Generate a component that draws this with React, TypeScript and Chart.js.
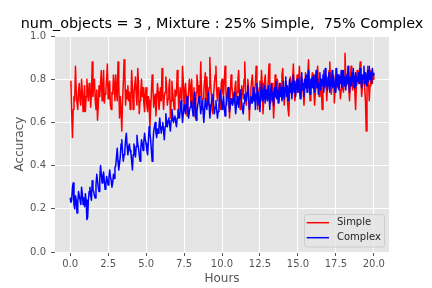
import React, { useEffect, useRef } from "react";
import { Chart, registerables } from "chart.js";

Chart.register(...registerables);

const TITLE = "num_objects = 3 , Mixture : 25% Simple,  75% Complex";
const X_LABEL = "Hours";
const Y_LABEL = "Accuracy";
const SERIES_NAMES = ["Simple", "Complex"];
const X_TICKS = [0, 2.5, 5, 7.5, 10, 12.5, 15, 17.5, 20];
const Y_TICKS = [0, 0.2, 0.4, 0.6, 0.8, 1.0];
const HOUR_STEP = 0.05;

const simple = [
  0.77, 0.79, 0.64, 0.53, 0.66, 0.72, 0.70, 0.86, 0.74, 0.69, 0.66, 0.75, 0.78, 0.70, 0.68, 0.80, 0.74, 0.65, 0.71, 0.77,
  0.65, 0.72, 0.80, 0.74, 0.70, 0.78, 0.76, 0.67, 0.73, 0.88, 0.72, 0.79, 0.80, 0.70, 0.66, 0.75, 0.61, 0.68, 0.77, 0.72,
  0.78, 0.84, 0.70, 0.75, 0.84, 0.69, 0.73, 0.75, 0.80, 0.87, 0.71, 0.76, 0.79, 0.68, 0.66, 0.74, 0.73, 0.82, 0.77, 0.70,
  0.82, 0.74, 0.70, 0.88, 0.79, 0.62, 0.72, 0.66, 0.56, 0.70, 0.78, 0.89, 0.82, 0.68, 0.75, 0.71, 0.77, 0.70, 0.74, 0.66,
  0.70, 0.84, 0.76, 0.66, 0.73, 0.77, 0.81, 0.72, 0.68, 0.85, 0.78, 0.64, 0.70, 0.74, 0.80, 0.72, 0.76, 0.69, 0.65, 0.73,
  0.76, 0.68, 0.65, 0.72, 0.70, 0.58, 0.66, 0.74, 0.82, 0.76, 0.67, 0.71, 0.73, 0.63, 0.70, 0.78, 0.74, 0.66, 0.70, 0.76,
  0.70, 0.85, 0.73, 0.66, 0.72, 0.74, 0.81, 0.77, 0.68, 0.71, 0.76, 0.80, 0.62, 0.70, 0.79, 0.74, 0.70, 0.66, 0.75, 0.72,
  0.73, 0.84, 0.78, 0.66, 0.70, 0.76, 0.72, 0.70, 0.86, 0.79, 0.68, 0.74, 0.78, 0.72, 0.63, 0.70, 0.74, 0.80, 0.76, 0.69,
  0.80, 0.72, 0.67, 0.76, 0.70, 0.62, 0.74, 0.82, 0.78, 0.70, 0.77, 0.72, 0.88, 0.75, 0.66, 0.71, 0.74, 0.79, 0.83, 0.70,
  0.81, 0.74, 0.68, 0.76, 0.90, 0.78, 0.72, 0.66, 0.64, 0.73, 0.78, 0.82, 0.86, 0.74, 0.70, 0.76, 0.75, 0.68, 0.66, 0.78,
  0.80, 0.74, 0.72, 0.79, 0.86, 0.76, 0.68, 0.73, 0.76, 0.70, 0.62, 0.74, 0.82, 0.77, 0.73, 0.70, 0.69, 0.76, 0.79, 0.72,
  0.74, 0.80, 0.84, 0.72, 0.66, 0.71, 0.77, 0.74, 0.71, 0.80, 0.88, 0.76, 0.68, 0.73, 0.80, 0.76, 0.61, 0.70, 0.75, 0.79,
  0.82, 0.76, 0.70, 0.74, 0.78, 0.86, 0.80, 0.66, 0.72, 0.76, 0.79, 0.72, 0.84, 0.78, 0.64, 0.70, 0.79, 0.82, 0.74, 0.71,
  0.73, 0.80, 0.87, 0.76, 0.69, 0.74, 0.78, 0.72, 0.62, 0.70, 0.82, 0.77, 0.74, 0.80, 0.76, 0.70, 0.73, 0.78, 0.76, 0.82,
  0.85, 0.76, 0.68, 0.74, 0.79, 0.75, 0.72, 0.66, 0.63, 0.74, 0.81, 0.78, 0.75, 0.80, 0.87, 0.77, 0.70, 0.74, 0.78, 0.82,
  0.74, 0.79, 0.86, 0.77, 0.72, 0.76, 0.80, 0.74, 0.68, 0.75, 0.83, 0.78, 0.76, 0.82, 0.89, 0.79, 0.70, 0.74, 0.79, 0.83,
  0.82, 0.75, 0.68, 0.74, 0.78, 0.82, 0.86, 0.78, 0.72, 0.76, 0.80, 0.74, 0.66, 0.75, 0.84, 0.79, 0.76, 0.80, 0.70, 0.77,
  0.80, 0.84, 0.88, 0.79, 0.73, 0.77, 0.78, 0.82, 0.69, 0.75, 0.85, 0.80, 0.76, 0.79, 0.82, 0.77, 0.71, 0.75, 0.79, 0.83,
  0.74, 0.80, 0.92, 0.82, 0.77, 0.80, 0.83, 0.76, 0.70, 0.78, 0.86, 0.81, 0.75, 0.78, 0.80, 0.74, 0.66, 0.77, 0.84, 0.80,
  0.78, 0.83, 0.88, 0.80, 0.72, 0.77, 0.82, 0.79, 0.76, 0.70, 0.56, 0.74, 0.86, 0.80, 0.70, 0.77, 0.84, 0.81, 0.78, 0.82,
  0.80,
];

const complex = [
  0.25, 0.23, 0.24, 0.30, 0.32, 0.22, 0.20, 0.26, 0.24, 0.18, 0.23, 0.28, 0.26, 0.24, 0.22, 0.30, 0.27, 0.22, 0.25, 0.21,
  0.27, 0.24, 0.15, 0.16, 0.24, 0.28, 0.30, 0.26, 0.24, 0.33, 0.29, 0.28, 0.26, 0.25, 0.31, 0.36, 0.33, 0.30, 0.28, 0.34,
  0.40, 0.36, 0.32, 0.35, 0.37, 0.33, 0.29, 0.31, 0.35, 0.33, 0.31, 0.34, 0.38, 0.35, 0.33, 0.30, 0.32, 0.36, 0.34, 0.39,
  0.40, 0.44, 0.48, 0.42, 0.38, 0.41, 0.44, 0.50, 0.52, 0.46, 0.42, 0.45, 0.47, 0.52, 0.55, 0.49, 0.45, 0.48, 0.50, 0.47,
  0.46, 0.42, 0.38, 0.45, 0.50, 0.47, 0.44, 0.49, 0.54, 0.50, 0.48, 0.45, 0.42, 0.48, 0.52, 0.50, 0.47, 0.51, 0.55, 0.52,
  0.50, 0.47, 0.45, 0.51, 0.58, 0.55, 0.52, 0.47, 0.42, 0.50, 0.56, 0.58, 0.60, 0.55, 0.53, 0.57, 0.55, 0.58, 0.62, 0.58,
  0.55, 0.58, 0.60, 0.56, 0.52, 0.58, 0.64, 0.60, 0.58, 0.61, 0.62, 0.59, 0.56, 0.61, 0.66, 0.63, 0.60, 0.62, 0.63, 0.60,
  0.58, 0.62, 0.66, 0.64, 0.62, 0.66, 0.70, 0.65, 0.60, 0.64, 0.68, 0.66, 0.64, 0.68, 0.72, 0.67, 0.62, 0.65, 0.67, 0.69,
  0.70, 0.66, 0.63, 0.68, 0.74, 0.68, 0.61, 0.65, 0.68, 0.70, 0.72, 0.68, 0.64, 0.67, 0.70, 0.66, 0.60, 0.65, 0.71, 0.68,
  0.66, 0.70, 0.74, 0.68, 0.62, 0.66, 0.69, 0.71, 0.73, 0.68, 0.64, 0.67, 0.70, 0.66, 0.62, 0.65, 0.68, 0.72, 0.75, 0.70,
  0.66, 0.69, 0.72, 0.67, 0.63, 0.67, 0.70, 0.73, 0.76, 0.70, 0.65, 0.68, 0.71, 0.69, 0.68, 0.71, 0.74, 0.69, 0.64, 0.68,
  0.72, 0.69, 0.67, 0.71, 0.75, 0.72, 0.69, 0.66, 0.64, 0.69, 0.73, 0.71, 0.70, 0.74, 0.77, 0.72, 0.66, 0.69, 0.72, 0.70,
  0.69, 0.76, 0.70, 0.74, 0.66, 0.73, 0.78, 0.68, 0.74, 0.71, 0.65, 0.74, 0.78, 0.70, 0.75, 0.71, 0.77, 0.69, 0.75, 0.72,
  0.70, 0.77, 0.72, 0.66, 0.75, 0.78, 0.70, 0.74, 0.68, 0.76, 0.72, 0.79, 0.71, 0.75, 0.69, 0.74, 0.78, 0.72, 0.76, 0.70,
  0.73, 0.79, 0.71, 0.76, 0.81, 0.72, 0.77, 0.70, 0.75, 0.80, 0.74, 0.78, 0.71, 0.76, 0.82, 0.74, 0.79, 0.72, 0.77, 0.80,
  0.74, 0.80, 0.76, 0.71, 0.79, 0.83, 0.75, 0.78, 0.72, 0.80, 0.76, 0.82, 0.74, 0.79, 0.84, 0.77, 0.73, 0.80, 0.76, 0.81,
  0.76, 0.82, 0.74, 0.79, 0.84, 0.76, 0.80, 0.73, 0.78, 0.83, 0.75, 0.80, 0.77, 0.82, 0.74, 0.79, 0.85, 0.77, 0.81, 0.75,
  0.78, 0.83, 0.74, 0.80, 0.77, 0.84, 0.76, 0.81, 0.78, 0.74, 0.80, 0.85, 0.77, 0.82, 0.75, 0.81, 0.78, 0.84, 0.76, 0.80,
  0.84, 0.77, 0.81, 0.75, 0.82, 0.78, 0.86, 0.79, 0.74, 0.81, 0.77, 0.83, 0.79, 0.85, 0.76, 0.80, 0.83, 0.77, 0.81, 0.79,
  0.83, 0.78, 0.85, 0.79, 0.76, 0.82, 0.80, 0.86, 0.78, 0.83, 0.77, 0.81, 0.84, 0.79, 0.86, 0.80, 0.83, 0.78, 0.85, 0.82,
  0.83,
];

const COLORS = ["#ff0000", "#0000ff"];
const FONT = "'DejaVu Sans', sans-serif";

export default function App() {
  const ref = useRef<HTMLCanvasElement>(null);

  useEffect(() => {
    document.body.style.margin = "0";
    const canvas = ref.current!;
    const toPoints = (arr: number[]) =>
      arr.map((v, i) => ({ x: +(i * HOUR_STEP).toFixed(2), y: v }));

    const decor = {
      id: "decor",
      beforeDraw(chart: any) {
        const { ctx, chartArea: a } = chart;
        ctx.save();
        ctx.fillStyle = "#ffffff";
        ctx.fillRect(0, 0, chart.width, chart.height);
        ctx.fillStyle = "#e5e5e5";
        ctx.fillRect(a.left, a.top, a.right - a.left, a.bottom - a.top);
        ctx.restore();
      },
      afterDraw(chart: any) {
        const { ctx, chartArea: a } = chart;
        ctx.save();
        const cx = (a.left + a.right) / 2;
        ctx.fillStyle = "#000000";
        ctx.font = `14.4px ${FONT}`;
        ctx.textAlign = "center";
        ctx.textBaseline = "middle";
        ctx.fillText(TITLE, cx, 24);
        ctx.fillStyle = "#555555";
        ctx.font = `12px ${FONT}`;
        ctx.fillText(X_LABEL, cx, 279);
        ctx.save();
        ctx.translate(20, (a.top + a.bottom) / 2);
        ctx.rotate(-Math.PI / 2);
        ctx.fillText(Y_LABEL, 0, 0);
        ctx.restore();
        const lx = 304.5, ly = 214.5, lw = 80, lh = 32.5, r = 2.5;
        ctx.beginPath();
        ctx.moveTo(lx + r, ly);
        ctx.lineTo(lx + lw - r, ly);
        ctx.quadraticCurveTo(lx + lw, ly, lx + lw, ly + r);
        ctx.lineTo(lx + lw, ly + lh - r);
        ctx.quadraticCurveTo(lx + lw, ly + lh, lx + lw - r, ly + lh);
        ctx.lineTo(lx + r, ly + lh);
        ctx.quadraticCurveTo(lx, ly + lh, lx, ly + lh - r);
        ctx.lineTo(lx, ly + r);
        ctx.quadraticCurveTo(lx, ly, lx + r, ly);
        ctx.closePath();
        ctx.fillStyle = "rgba(229,229,229,0.8)";
        ctx.fill();
        ctx.strokeStyle = "#cccccc";
        ctx.lineWidth = 1;
        ctx.stroke();
        ctx.font = `10px ${FONT}`;
        ctx.textAlign = "left";
        SERIES_NAMES.forEach((name, i) => {
          const y = 222.7 + i * 15;
          ctx.strokeStyle = COLORS[i];
          ctx.lineWidth = 1.5;
          ctx.beginPath();
          ctx.moveTo(306.7, y);
          ctx.lineTo(329, y);
          ctx.stroke();
          ctx.fillStyle = "#262626";
          ctx.fillText(name, 337, y);
        });
        ctx.restore();
      },
    };

    const chart = new Chart(canvas, {
      type: "line",
      data: {
        datasets: [
          {
            label: SERIES_NAMES[0],
            data: toPoints(simple),
            borderColor: COLORS[0],
            borderWidth: 1.5,
            borderJoinStyle: "round",
            pointRadius: 0,
            tension: 0,
            fill: false,
            order: 1,
          },
          {
            label: SERIES_NAMES[1],
            data: toPoints(complex),
            borderColor: COLORS[1],
            borderWidth: 1.5,
            borderJoinStyle: "round",
            pointRadius: 0,
            tension: 0,
            fill: false,
            order: 0,
          },
        ],
      },
      options: {
        responsive: false,
        animation: false,
        devicePixelRatio: 1,
        layout: { padding: { top: 36, right: 43, left: 0, bottom: 0 } },
        plugins: {
          legend: { display: false },
          title: { display: false },
          tooltip: { enabled: false },
        },
        scales: {
          x: {
            type: "linear",
            min: -1,
            max: 21,
            afterBuildTicks: (s: any) => {
              s.ticks = X_TICKS.map((v) => ({ value: v }));
            },
            afterFit: (s: any) => {
              s.height = 36;
            },
            border: { display: false },
            grid: {
              color: "#ffffff",
              lineWidth: 1,
              tickColor: "#555555",
              tickLength: 4,
              drawTicks: true,
            },
            ticks: {
              color: "#555555",
              font: { family: FONT, size: 10 },
              padding: 2,
              maxRotation: 0,
              autoSkip: false,
              callback: (v: any) => Number(v).toFixed(1),
            },
          },
          y: {
            type: "linear",
            min: 0,
            max: 1,
            afterBuildTicks: (s: any) => {
              s.ticks = Y_TICKS.map((v) => ({ value: v }));
            },
            afterFit: (s: any) => {
              s.width = 55;
            },
            border: { display: false },
            grid: {
              color: "#ffffff",
              lineWidth: 1,
              tickColor: "#555555",
              tickLength: 4,
              drawTicks: true,
            },
            ticks: {
              color: "#555555",
              font: { family: FONT, size: 10 },
              padding: 5,
              autoSkip: false,
              callback: (v: any) => Number(v).toFixed(1),
            },
          },
        },
      },
      plugins: [decor],
    });
    return () => chart.destroy();
  }, []);

  return (
    <div style={{ position: "absolute", left: 0, top: 0, width: 432, height: 288 }}>
      <canvas ref={ref} width={432} height={288} style={{ width: 432, height: 288 }} />
    </div>
  );
}
